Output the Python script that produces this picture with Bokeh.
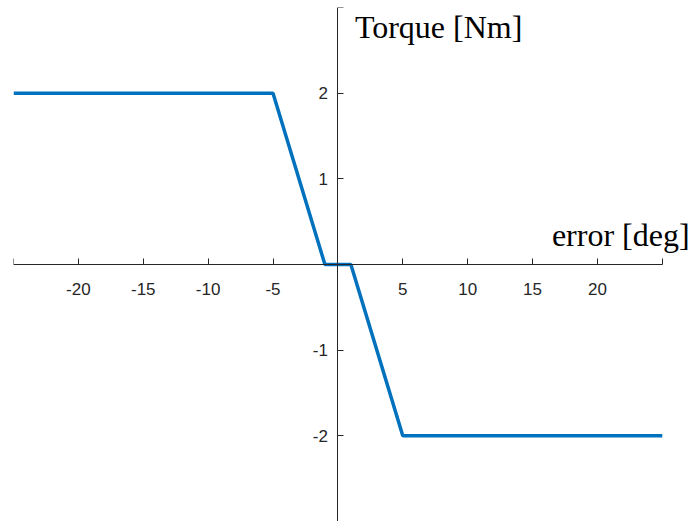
from bokeh.plotting import figure
from bokeh.models import LinearAxis, FixedTicker, Label, Range1d
from bokeh.core.properties import value
from bokeh.embed import file_html
from bokeh.resources import INLINE

# data
err_deg = [-25, -5, -1, 1, 5, 25]
torque_nm = [2, 2, 0, 0, -2, -2]
x_ticks = [-25, -20, -15, -10, -5, 0, 5, 10, 15, 20, 25]
x_tick_labels = ["", "-20", "-15", "-10", "-5", "", "5", "10", "15", "20", ""]
y_ticks = [-3, -2, -1, 0, 1, 2, 3]
y_tick_labels = ["", "-2", "-1", "", "1", "2", ""]
x_label = "error [deg]"
y_label = "Torque [Nm]"

p = figure(width=691, height=521, output_backend="svg", toolbar_location=None,
           x_axis_type=None, y_axis_type=None,
           x_range=Range1d(-25, 27.25), y_range=Range1d(-3, 3),
           min_border_left=13, min_border_right=0, min_border_top=7, min_border_bottom=0)
p.outline_line_color = None
p.background_fill_color = "white"
p.border_fill_color = "white"

axc = "#262626"
xa = LinearAxis(fixed_location=0, ticker=FixedTicker(ticks=x_ticks), bounds=(-25, 25))
xa.major_label_overrides = {t: s for t, s in zip(x_ticks, x_tick_labels)}
ya = LinearAxis(fixed_location=0, ticker=FixedTicker(ticks=y_ticks), bounds=(-3, 3))
ya.major_label_overrides = {t: "" for t in y_ticks}
for a in (xa, ya):
    a.axis_line_color = axc
    a.axis_line_width = 1
    a.major_tick_line_color = axc
    a.major_tick_in = 6
    a.major_tick_out = 0
    a.minor_tick_line_color = None
    a.major_label_text_font = "Liberation Sans"
    a.major_label_text_font_size = "17px"
    a.major_label_text_color = axc
xa.major_label_standoff = 18
p.add_layout(xa, "below")
p.add_layout(ya, "left")

# y tick labels placed at the tick values, left of the y axis
p.text(x=[0] * len(y_ticks), y=y_ticks, text=y_tick_labels, x_offset=-10,
       text_align="right", text_baseline="middle", text_font=value("Liberation Sans"),
       text_font_size="17px", text_color=axc)

p.line(err_deg, torque_nm, line_color="#0072BD", line_width=3.5)

p.add_layout(Label(x=1.31, y=2.77, text=y_label, text_font="Liberation Serif",
                   text_font_size="32px", text_color="black", text_baseline="alphabetic"))
p.add_layout(Label(x=16.49, y=0.34, text=x_label, text_font="Liberation Serif",
                   text_font_size="32px", text_color="black", text_baseline="alphabetic"))

open("out.html", "w").write(file_html(p, INLINE))
